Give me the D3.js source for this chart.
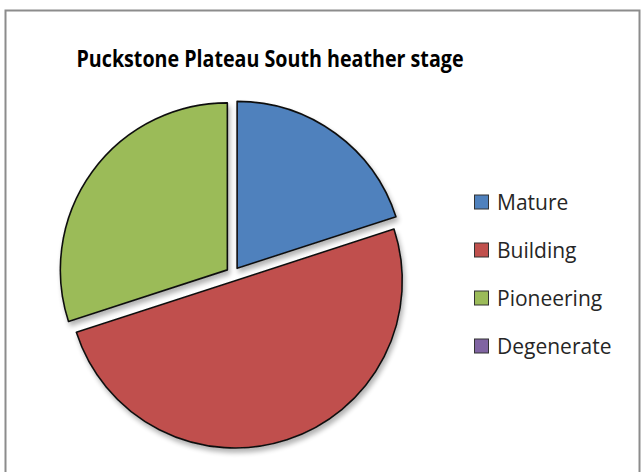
<!DOCTYPE html>
<html>
<head>
<meta charset="utf-8">
<script src="https://cdn.jsdelivr.net/npm/d3@7"></script>
<style>
  body { margin: 0; background: #fff; }
  svg { display: block; }
</style>
</head>
<body>
<div id="chart"></div>
<script>
// DATA
const stages = ['Mature', 'Building', 'Pioneering', 'Degenerate'];
const shares = [20, 50, 30, 0];
const colours = ['#4F81BD', '#C0504D', '#9BBB59', '#8064A2'];
const title = 'Puckstone Plateau South heather stage';

// SIZES
const width = 642, height = 472;
const cx = 233, cy = 274, radius = 167, explode = 7;

const svg = d3.select('#chart')
    .append('svg')
    .attr('width', width)
    .attr('height', height);

// shadow like excel
const defs = svg.append('defs');
const f = defs.append('filter').attr('id', 'shadow')
    .attr('x', '-10%').attr('y', '-10%').attr('width', '130%').attr('height', '130%');
f.append('feGaussianBlur').attr('in', 'SourceAlpha').attr('stdDeviation', 2.5);
f.append('feOffset').attr('dx', 2).attr('dy', 4).attr('result', 'off');
f.append('feComponentTransfer').append('feFuncA').attr('type', 'linear').attr('slope', 0.3);
const m = f.append('feMerge');
m.append('feMergeNode');
m.append('feMergeNode').attr('in', 'SourceGraphic');

// FRAME
svg.append('rect')
    .attr('x', 5.5).attr('y', 10.5)
    .attr('width', 634).attr('height', 470)
    .attr('fill', '#fff')
    .attr('stroke', '#8c8c8c')
    .attr('stroke-width', 2);

// TITLE
const t = svg.append('text')
    .text(title)
    .attr('x', 270)
    .attr('y', 67)
    .attr('text-anchor', 'middle')
    .style('font-family', 'Open Sans, sans-serif')
    .style('font-weight', 'bold')
    .style('font-size', '24px')
    .attr('fill', '#000');
// squeeze to width of the calibri title
const tw = t.node().getComputedTextLength();
if (tw > 387) t.attr('textLength', 387).attr('lengthAdjust', 'spacingAndGlyphs');

// PIE
const pie = d3.pie().sort(null).value(d => d.v);
const arc = d3.arc().innerRadius(0).outerRadius(radius);
const slices = pie(stages.map((s, i) => ({ s: s, v: shares[i], c: colours[i] })))
    .filter(d => d.data.v > 0);

const g = svg.append('g')
    .attr('transform', `translate(${cx},${cy})`)
    .attr('filter', 'url(#shadow)');

g.selectAll('path')
    .data(slices)
    .join('path')
    .attr('d', arc)
    .attr('transform', d => {
        const a = (d.startAngle + d.endAngle) / 2;
        return `translate(${explode * Math.sin(a)},${-explode * Math.cos(a)})`;
    })
    .attr('fill', d => d.data.c)
    .attr('stroke', '#111')
    .attr('stroke-width', 1.6)
    .attr('stroke-linejoin', 'round');

// LEGEND
const y = d3.scalePoint().domain(stages).range([202, 346]);
const leg = svg.append('g').selectAll('g')
    .data(stages)
    .join('g')
    .attr('transform', d => `translate(474,${y(d)})`);

leg.append('rect')
    .attr('x', 0.5).attr('y', -7)
    .attr('width', 14).attr('height', 14)
    .attr('fill', (d, i) => colours[i])
    .attr('stroke', '#333')
    .attr('stroke-width', 1);

leg.append('text')
    .text(d => d)
    .attr('x', 23)
    .attr('y', 8)
    .style('font-family', 'Open Sans, sans-serif')
    .style('font-size', '21px')
    .attr('fill', '#262626');
</script>
</body>
</html>
